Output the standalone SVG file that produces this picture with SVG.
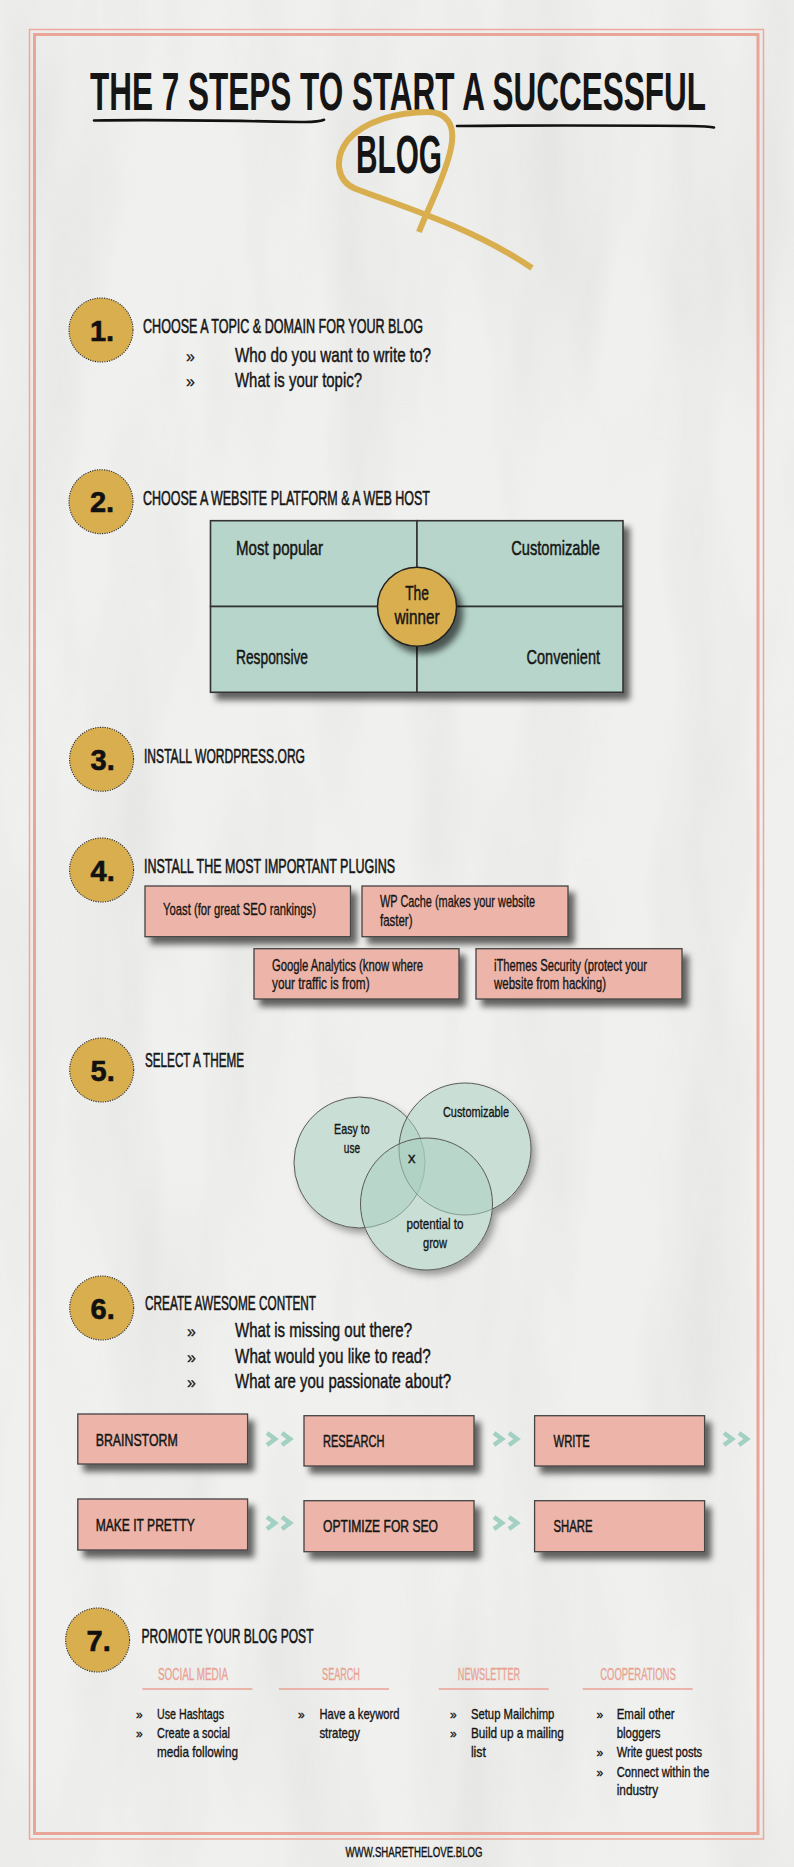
<svg xmlns="http://www.w3.org/2000/svg" width="794" height="1867" viewBox="0 0 794 1867">
<defs>
<style>
text{font-family:"Liberation Sans","DejaVu Sans",Arial,sans-serif;fill:#151515;stroke:#151515;stroke-width:0.3}
.title{font-size:54px;font-weight:bold;stroke-width:0}
.h{font-size:19.5px;stroke-width:0.55}
.q{font-size:21px;stroke-width:0.45}
.bul{font-size:16px}
.cell{font-size:20.5px;stroke-width:0.5}
.pl{font-size:16.3px;stroke-width:0.35}
.vn{font-size:15px;stroke-width:0.35}
.fl{font-size:17px;stroke-width:0.5}
.ch{font-size:16px;fill:#E8A293;stroke:#E8A293;stroke-width:0.3}
.it{font-size:15px;stroke-width:0.35}
.ib{font-size:12px}
.num{font-size:29px;font-weight:bold;text-anchor:middle;fill:#111;stroke:#111;stroke-width:0.6}
.badge{fill:#D8AE4F;stroke:#2a2a2a;stroke-width:1.1;stroke-dasharray:1.2 1.2}
.grid{fill:#B7D5CA;stroke:#333;stroke-width:1.6}
.pink{fill:#EDB5A9;stroke:#444;stroke-width:1.3}
.venn{fill:#A9CFC1;fill-opacity:0.55;stroke:#5a5a5a;stroke-width:1}
.chev{fill:none;stroke:#A2D0C2;stroke-width:4.6;stroke-linecap:butt;stroke-linejoin:miter}
.ul{fill:none;stroke:#E8A293;stroke-width:1.6}
</style>
<filter id="sh" x="-20%" y="-30%" width="150%" height="180%">
<feDropShadow dx="6" dy="7" stdDeviation="3.2" flood-color="#000" flood-opacity="0.6"/>
</filter>
<filter id="shs" x="-20%" y="-20%" width="150%" height="150%">
<feDropShadow dx="4" dy="5" stdDeviation="3.5" flood-color="#000" flood-opacity="0.35"/>
</filter>
<filter id="tex" x="0" y="0" width="100%" height="100%">
<feTurbulence type="fractalNoise" baseFrequency="0.012 0.0025" numOctaves="3" seed="4"/>
<feColorMatrix type="matrix" values="0 0 0 0 0.6  0 0 0 0 0.6  0 0 0 0 0.6  0 0 0 -2.2 1.3"/>
</filter>
</defs>

<g id="background">
<rect x="0" y="0" width="794" height="1867" fill="#F0F0EE"/>
<rect x="0" y="0" width="794" height="1867" filter="url(#tex)" opacity="0.25"/>
<rect x="29.5" y="29.5" width="734" height="1809.5" fill="none" stroke="#EBA99B" stroke-width="1.5"/>
<rect x="34.5" y="34.5" width="723.5" height="1799" fill="none" stroke="#E9A597" stroke-width="3"/>
</g>

<g id="title">
<text class="title" transform="translate(90,110) scale(0.58,1)" x="0" y="0" textLength="1062" lengthAdjust="spacingAndGlyphs">THE 7 STEPS TO START A SUCCESSFUL</text>
<text class="title" transform="translate(356,173.3) scale(0.55,1)" x="0" y="0" textLength="156.4" lengthAdjust="spacingAndGlyphs">BLOG</text>
<path d="M94,120.5 C160,119.5 250,121 300,122 C312,122.3 320,121.5 324,119.8" fill="none" stroke="#111" stroke-width="2.6" stroke-linecap="round"/>
<path d="M457,126 C540,125.2 620,125.5 690,126 C700,126.1 710,126.5 714,127.5" fill="none" stroke="#111" stroke-width="2.6" stroke-linecap="round"/>
<path d="M419,232 C427,210 445,178 451,148 C456,124 446,112 428,112 C398,112 364,121 348,140 C334,158 336,181 356,189 C392,203 470,226 532,268" fill="none" stroke="#D8AE4F" stroke-width="6"/>
</g>

<g id="step1">
<circle class="badge" cx="101" cy="330" r="32"/>
<text class="num" x="102" y="340.5">1.</text>
<text class="h" x="143" y="333.3" textLength="280" lengthAdjust="spacingAndGlyphs">CHOOSE A TOPIC &amp; DOMAIN FOR YOUR BLOG</text>
<text class="bul" x="186" y="361.5">»</text>
<text class="q" x="235" y="361.7" textLength="196" lengthAdjust="spacingAndGlyphs">Who do you want to write to?</text>
<text class="bul" x="186" y="386.5">»</text>
<text class="q" x="235" y="386.7" textLength="127" lengthAdjust="spacingAndGlyphs">What is your topic?</text>
</g>

<g id="step2">
<circle class="badge" cx="101" cy="501.7" r="32"/>
<text class="num" x="102" y="512.2">2.</text>
<text class="h" x="143" y="505" textLength="287" lengthAdjust="spacingAndGlyphs">CHOOSE A WEBSITE PLATFORM &amp; A WEB HOST</text>
<g id="platform-grid" filter="url(#sh)">
<rect class="grid" x="210.5" y="520.7" width="206.5" height="85.8"/>
<rect class="grid" x="417" y="520.7" width="206" height="85.8"/>
<rect class="grid" x="210.5" y="606.5" width="206.5" height="85.8"/>
<rect class="grid" x="417" y="606.5" width="206" height="85.8"/>
</g>
<text class="cell" x="236" y="555" textLength="87" lengthAdjust="spacingAndGlyphs">Most popular</text>
<text class="cell" x="511.2" y="555" textLength="88.8" lengthAdjust="spacingAndGlyphs">Customizable</text>
<text class="cell" x="236" y="664" textLength="72" lengthAdjust="spacingAndGlyphs">Responsive</text>
<text class="cell" x="526.5" y="664" textLength="73.5" lengthAdjust="spacingAndGlyphs">Convenient</text>
<g id="winner">
<circle cx="417" cy="606.7" r="39.5" fill="#D8AE4F" stroke="#222" stroke-width="1.5" filter="url(#sh)"/>
<text class="cell" x="405.2" y="600" textLength="23.7" lengthAdjust="spacingAndGlyphs">The</text>
<text class="cell" x="394.5" y="624.3" textLength="45" lengthAdjust="spacingAndGlyphs">winner</text>
</g>
</g>

<g id="step3">
<circle class="badge" cx="101.6" cy="759.3" r="32"/>
<text class="num" x="102.6" y="769.8">3.</text>
<text class="h" x="144" y="762.7" textLength="161" lengthAdjust="spacingAndGlyphs">INSTALL WORDPRESS.ORG</text>
</g>

<g id="step4">
<circle class="badge" cx="101.6" cy="870" r="32"/>
<text class="num" x="102.6" y="880.5">4.</text>
<text class="h" x="144" y="872.7" textLength="251" lengthAdjust="spacingAndGlyphs">INSTALL THE MOST IMPORTANT PLUGINS</text>
<g id="plugin-yoast">
<rect class="pink" x="145" y="886" width="205.5" height="50.7" filter="url(#sh)"/>
<text class="pl" x="163" y="915" textLength="153" lengthAdjust="spacingAndGlyphs">Yoast (for great SEO rankings)</text>
</g>
<g id="plugin-wpcache">
<rect class="pink" x="362" y="886" width="206" height="50.7" filter="url(#sh)"/>
<text class="pl" x="380" y="907.3" textLength="155" lengthAdjust="spacingAndGlyphs">WP Cache (makes your website</text>
<text class="pl" x="380" y="926" textLength="32.5" lengthAdjust="spacingAndGlyphs">faster)</text>
</g>
<g id="plugin-analytics">
<rect class="pink" x="254" y="948.7" width="205" height="50.3" filter="url(#sh)"/>
<text class="pl" x="272" y="970.7" textLength="151" lengthAdjust="spacingAndGlyphs">Google Analytics (know where</text>
<text class="pl" x="272" y="989" textLength="97.6" lengthAdjust="spacingAndGlyphs">your traffic is from)</text>
</g>
<g id="plugin-ithemes">
<rect class="pink" x="476" y="948.7" width="206" height="50.3" filter="url(#sh)"/>
<text class="pl" x="494" y="970.7" textLength="153" lengthAdjust="spacingAndGlyphs">iThemes Security (protect your</text>
<text class="pl" x="494" y="989" textLength="112" lengthAdjust="spacingAndGlyphs">website from hacking)</text>
</g>
</g>

<g id="step5">
<circle class="badge" cx="101.7" cy="1070" r="32"/>
<text class="num" x="102.7" y="1080.5">5.</text>
<text class="h" x="145" y="1066.7" textLength="99" lengthAdjust="spacingAndGlyphs">SELECT A THEME</text>
<g id="venn">
<g filter="url(#shs)" fill="#F0F0EE">
<circle cx="359.5" cy="1162.5" r="65.5"/>
<circle cx="465" cy="1149" r="66"/>
<circle cx="426.5" cy="1204" r="66"/>
</g>
<circle class="venn" cx="359.5" cy="1162.5" r="65.5"/>
<circle class="venn" cx="465" cy="1149" r="66"/>
<circle class="venn" cx="426.5" cy="1204" r="66"/>
<text class="vn" x="334.1" y="1134" textLength="35.7" lengthAdjust="spacingAndGlyphs">Easy to</text>
<text class="vn" x="343.8" y="1153" textLength="16.3" lengthAdjust="spacingAndGlyphs">use</text>
<text class="vn" x="443" y="1117" textLength="66" lengthAdjust="spacingAndGlyphs">Customizable</text>
<text class="vn" x="408" y="1163">x</text>
<text class="vn" x="406.5" y="1229" textLength="57" lengthAdjust="spacingAndGlyphs">potential to</text>
<text class="vn" x="423" y="1248" textLength="24" lengthAdjust="spacingAndGlyphs">grow</text>
</g>
</g>

<g id="step6">
<circle class="badge" cx="101.7" cy="1308" r="32"/>
<text class="num" x="102.7" y="1318.5">6.</text>
<text class="h" x="145" y="1310" textLength="171" lengthAdjust="spacingAndGlyphs">CREATE AWESOME CONTENT</text>
<text class="bul" x="187" y="1337">»</text>
<text class="q" x="235" y="1337" textLength="177" lengthAdjust="spacingAndGlyphs">What is missing out there?</text>
<text class="bul" x="187" y="1362.5">»</text>
<text class="q" x="235" y="1362.5" textLength="195.7" lengthAdjust="spacingAndGlyphs">What would you like to read?</text>
<text class="bul" x="187" y="1388">»</text>
<text class="q" x="235" y="1388" textLength="216" lengthAdjust="spacingAndGlyphs">What are you passionate about?</text>
<g id="flow-brainstorm">
<rect class="pink" x="77.8" y="1414" width="169.8" height="50" filter="url(#sh)"/>
<text class="fl" x="95.7" y="1445.7" textLength="82" lengthAdjust="spacingAndGlyphs">BRAINSTORM</text>
</g>
<g id="flow-research">
<rect class="pink" x="304" y="1415.7" width="170" height="50.3" filter="url(#sh)"/>
<text class="fl" x="323" y="1446.7" textLength="61.4" lengthAdjust="spacingAndGlyphs">RESEARCH</text>
</g>
<g id="flow-write">
<rect class="pink" x="534.6" y="1415.7" width="170" height="50.3" filter="url(#sh)"/>
<text class="fl" x="553.5" y="1446.7" textLength="36.3" lengthAdjust="spacingAndGlyphs">WRITE</text>
</g>
<g id="flow-pretty">
<rect class="pink" x="77.8" y="1499" width="169.8" height="51" filter="url(#sh)"/>
<text class="fl" x="95.7" y="1530.7" textLength="99" lengthAdjust="spacingAndGlyphs">MAKE IT PRETTY</text>
</g>
<g id="flow-seo">
<rect class="pink" x="304" y="1500.7" width="170" height="51" filter="url(#sh)"/>
<text class="fl" x="323" y="1531.7" textLength="115" lengthAdjust="spacingAndGlyphs">OPTIMIZE FOR SEO</text>
</g>
<g id="flow-share">
<rect class="pink" x="534.6" y="1500.7" width="170" height="51" filter="url(#sh)"/>
<text class="fl" x="553.5" y="1531.7" textLength="39" lengthAdjust="spacingAndGlyphs">SHARE</text>
</g>
</g>

<g id="connectors">
<path class="chev" d="M267,1433 L275,1439 L267,1445 M282,1433 L290,1439 L282,1445"/>
<path class="chev" d="M494,1433 L502,1439 L494,1445 M509,1433 L517,1439 L509,1445"/>
<path class="chev" d="M724,1433 L732,1439 L724,1445 M739,1433 L747,1439 L739,1445"/>
<path class="chev" d="M267,1517 L275,1523 L267,1529 M282,1517 L290,1523 L282,1529"/>
<path class="chev" d="M494,1517 L502,1523 L494,1529 M509,1517 L517,1523 L509,1529"/>
</g>

<g id="step7">
<circle class="badge" cx="97.6" cy="1640" r="32"/>
<text class="num" x="98.6" y="1650.5">7.</text>
<text class="h" x="141.5" y="1643.3" textLength="172" lengthAdjust="spacingAndGlyphs">PROMOTE YOUR BLOG POST</text>
<g id="col-social">
<text class="ch" x="158" y="1680" textLength="70" lengthAdjust="spacingAndGlyphs">SOCIAL MEDIA</text>
<line class="ul" x1="142.4" y1="1689" x2="252.4" y2="1689"/>
<text class="ib" x="136" y="1719.3">»</text>
<text class="it" x="157" y="1719.3" textLength="67" lengthAdjust="spacingAndGlyphs">Use Hashtags</text>
<text class="ib" x="136" y="1738.3">»</text>
<text class="it" x="157" y="1738.3" textLength="73" lengthAdjust="spacingAndGlyphs">Create a social</text>
<text class="it" x="157" y="1757.3" textLength="81" lengthAdjust="spacingAndGlyphs">media following</text>
</g>
<g id="col-search">
<text class="ch" x="322.1" y="1680" textLength="37.8" lengthAdjust="spacingAndGlyphs">SEARCH</text>
<line class="ul" x1="279" y1="1689" x2="389" y2="1689"/>
<text class="ib" x="298" y="1719.3">»</text>
<text class="it" x="319.4" y="1719.3" textLength="80" lengthAdjust="spacingAndGlyphs">Have a keyword</text>
<text class="it" x="319.4" y="1738.3" textLength="40.6" lengthAdjust="spacingAndGlyphs">strategy</text>
</g>
<g id="col-newsletter">
<text class="ch" x="457.8" y="1680" textLength="62.3" lengthAdjust="spacingAndGlyphs">NEWSLETTER</text>
<line class="ul" x1="438.8" y1="1689" x2="548.7" y2="1689"/>
<text class="ib" x="450" y="1719.3">»</text>
<text class="it" x="470.9" y="1719.3" textLength="83.5" lengthAdjust="spacingAndGlyphs">Setup Mailchimp</text>
<text class="ib" x="450" y="1738.3">»</text>
<text class="it" x="470.9" y="1738.3" textLength="93" lengthAdjust="spacingAndGlyphs">Build up a mailing</text>
<text class="it" x="470.9" y="1757.3" textLength="15" lengthAdjust="spacingAndGlyphs">list</text>
</g>
<g id="col-cooperations">
<text class="ch" x="600.2" y="1680" textLength="75.5" lengthAdjust="spacingAndGlyphs">COOPERATIONS</text>
<line class="ul" x1="582.7" y1="1689" x2="692.7" y2="1689"/>
<text class="ib" x="596.5" y="1719.3">»</text>
<text class="it" x="616.7" y="1719.3" textLength="58" lengthAdjust="spacingAndGlyphs">Email other</text>
<text class="it" x="616.7" y="1738.3" textLength="43.9" lengthAdjust="spacingAndGlyphs">bloggers</text>
<text class="ib" x="596.5" y="1757.3">»</text>
<text class="it" x="616.7" y="1757.3" textLength="85.4" lengthAdjust="spacingAndGlyphs">Write guest posts</text>
<text class="ib" x="596.5" y="1776.7">»</text>
<text class="it" x="616.7" y="1776.7" textLength="92.5" lengthAdjust="spacingAndGlyphs">Connect within the</text>
<text class="it" x="616.7" y="1795" textLength="41.5" lengthAdjust="spacingAndGlyphs">industry</text>
</g>
</g>

<g id="footer">
<text x="345.5" y="1856.7" style="font-size:14px;stroke-width:0.4" textLength="137" lengthAdjust="spacingAndGlyphs">WWW.SHARETHELOVE.BLOG</text>
</g>
</svg>
